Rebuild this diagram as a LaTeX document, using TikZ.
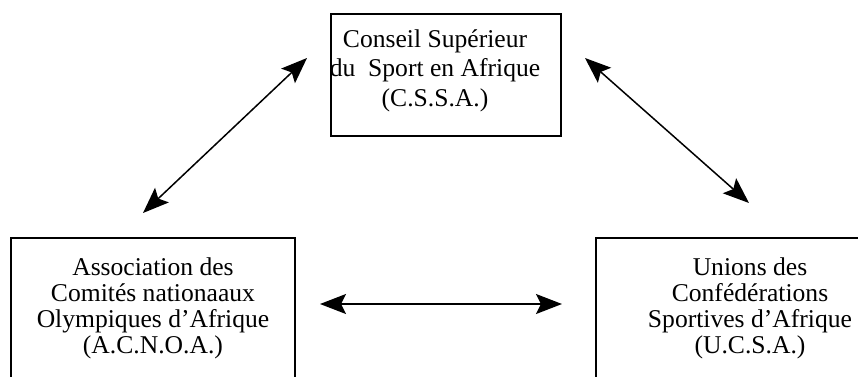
\documentclass[tikz,border=0pt]{standalone}
\usepackage{fontspec}
\setmainfont{Liberation Serif}
\usetikzlibrary{arrows.meta}
\begin{document}
\begin{tikzpicture}[x=0.5pt, y=-0.5pt,
    cadre/.style={draw, line width=1pt, inner sep=0pt, outer sep=0pt, anchor=north west},
    texte/.style={align=center, anchor=north, inner sep=0pt, font=\fontsize{12.8}{13}\selectfont},
    fleche/.style={line width=0.75pt, {Stealth[length=13pt, width=10pt, inset=2.5pt]}-{Stealth[length=13pt, width=10pt, inset=2.5pt]}}]
    \useasboundingbox (0,0) rectangle (858,376);
    \clip (0,0) rectangle (858,376);
    % Cadres
    \node[cadre, minimum width=115pt, minimum height=61pt] (cssa) at (331,14) {};
    \node[cadre, minimum width=142pt, minimum height=100pt] (acnoa) at (11,238) {};
    \node[cadre, minimum width=142pt, minimum height=100pt] (ucsa) at (596,238) {};
    % Textes
    \node[texte, font=\fontsize{12.8}{14.75}\selectfont] (t-cssa) at (435,29)
        {Conseil Supérieur\\du\ \ Sport en Afrique\\(C.S.S.A.)};
    \node[texte] (t-acnoa) at (153,257)
        {Association des\\Comités nationaaux\\Olympiques d’Afrique\\(A.C.N.O.A.)};
    \node[texte] (t-ucsa) at (750,257)
        {Unions des\\Confédérations\\Sportives d’Afrique\\(U.C.S.A.)};
    % Extremites des fleches
    \coordinate (g-haut) at (307,58); \coordinate (g-bas) at (143,213);
    \coordinate (d-haut) at (585,58); \coordinate (d-bas) at (749,203);
    \coordinate (h-gauche) at (320,304); \coordinate (h-droite) at (562,304);
    \draw[fleche] (g-bas) -- (g-haut);
    \draw[fleche] (d-haut) -- (d-bas);
    \draw[fleche] (h-gauche) -- (h-droite);
\end{tikzpicture}
\end{document}
